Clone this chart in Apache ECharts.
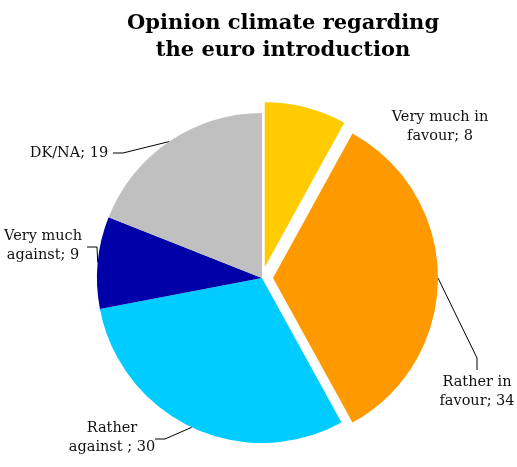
<!DOCTYPE html>
<html>
<head>
<meta charset="utf-8">
<script src="https://cdn.jsdelivr.net/npm/echarts@6/dist/echarts.min.js"></script>
<style>
  html, body { margin: 0; padding: 0; background: #fff; }
  #chart { width: 517px; height: 467px; }
</style>
</head>
<body>
<div id="chart"></div>
<script>
// ---- data ----
const categories = ['Very much in\nfavour', 'Rather in\nfavour', 'Rather\nagainst ', 'Very much\nagainst', 'DK/NA'];
const values = [8, 34, 30, 9, 19];
const exploded = [true, true, false, false, false];
const colors = ['#FFCC00', '#FF9900', '#00CCFF', '#0000A8', '#C0C0C0'];

// ---- layout ----
const pieCenter = [262, 278];
const pieRadius = 165;
const explodeOffset = 11;
const labelPlacement = [
  { x: 440, y: 127, bend: null },
  { x: 477, y: 392, bend: [[477, 358], [477, 370]] },
  { x: 112, y: 438, bend: [[165, 439], [155, 439]] },
  { x: 43,  y: 246, bend: [[97, 247], [87, 247]] },
  { x: 69,  y: 153, bend: [[123, 153], [113, 153]] }
];

const chart = echarts.init(document.getElementById('chart'), null, { renderer: 'canvas' });
const labelFont = 'DejaVu Serif';

const baseSeries = {
  type: 'pie',
  center: pieCenter,
  radius: pieRadius,
  startAngle: 90,
  clockwise: true,
  avoidLabelOverlap: false,
  emphasis: { disabled: true }
};

const option = {
  backgroundColor: '#fff',
  animation: false,
  title: {
    text: 'Opinion climate regarding\nthe euro introduction',
    left: 278,
    textAlign: 'center',
    top: 5,
    textStyle: {
      fontFamily: labelFont,
      fontWeight: 'bold',
      fontSize: 21,
      lineHeight: 27,
      color: '#000'
    }
  },
  series: [
    Object.assign({}, baseSeries, {
      name: 'slices',
      selectedMode: 'multiple',
      selectedOffset: explodeOffset,
      itemStyle: { borderWidth: 0 },
      label: { show: false },
      labelLine: { show: false },
      data: categories.map((c, i) => ({
        name: c,
        value: values[i],
        selected: exploded[i],
        itemStyle: { color: colors[i] }
      }))
    }),
    Object.assign({}, baseSeries, {
      name: 'labels',
      silent: true,
      selectedMode: false,
      itemStyle: { color: 'rgba(0,0,0,0)', borderWidth: 0 },
      label: {
        show: true,
        position: 'outside',
        formatter: '{b}; {c}',
        fontFamily: labelFont,
        fontSize: 14.5,
        lineHeight: 19,
        color: '#111',
        align: 'center'
      },
      labelLine: {
        show: true,
        length: 10,
        length2: 10,
        lineStyle: { color: '#000', width: 1 }
      },
      labelLayout: function (params) {
        const i = params.dataIndex;
        const p = labelPlacement[i];
        const res = { x: p.x, y: p.y, align: 'center', verticalAlign: 'middle' };
        if (p.bend && params.labelLinePoints && params.labelLinePoints.length) {
          let p0 = params.labelLinePoints[0].slice();
          if (exploded[i]) {
            const dx = p0[0] - pieCenter[0], dy = p0[1] - pieCenter[1];
            const len = Math.sqrt(dx * dx + dy * dy) || 1;
            p0 = [p0[0] + dx / len * explodeOffset, p0[1] + dy / len * explodeOffset];
          }
          res.labelLinePoints = [p0].concat(p.bend);
        }
        return res;
      },
      data: categories.map((c, i) => ({
        name: c,
        value: values[i],
        labelLine: { show: labelPlacement[i].bend !== null }
      }))
    })
  ]
};
chart.setOption(option);
</script>
</body>
</html>
